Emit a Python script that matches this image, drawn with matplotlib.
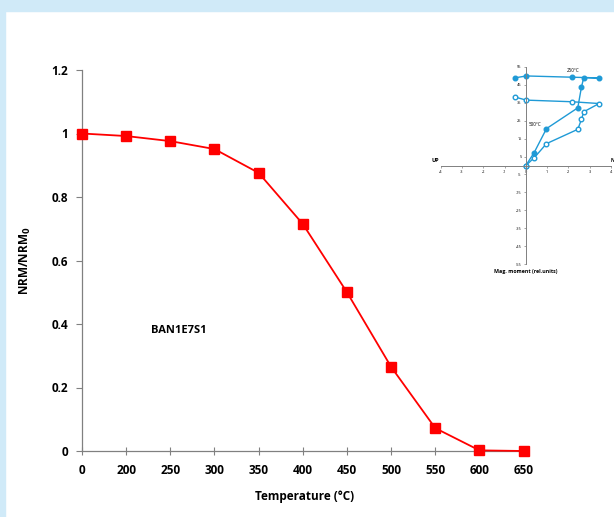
import numpy as np
import matplotlib.pyplot as plt

plt.rcParams['font.family'] = ['Open Sans', 'DejaVu Sans']

# main curve
temps = ['0', '200', '250', '300', '350', '400', '450', '500', '550', '600', '650']
nrm = [1.0, 0.992, 0.976, 0.951, 0.876, 0.715, 0.50, 0.265, 0.072, 0.002, 0.0]
y_ticks = [0, 0.2, 0.4, 0.6, 0.8, 1, 1.2]
y_tick_labels = ['0', '0.2', '0.4', '0.6', '0.8', '1', '1.2']

# inset zijderveld
horiz_x = [-0.53, 0.02, 2.17, 3.44, 2.72, 2.61, 2.44, 0.97, 0.39, 0.0]
horiz_y = [48.9, 50.0, 49.3, 48.9, 49.1, 43.7, 32.2, 20.6, 7.2, 0.0]
vert_x = [-0.53, 0.02, 2.17, 3.44, 2.72, 2.61, 2.44, 0.97, 0.39, 0.0]
vert_y = [38.3, 36.5, 35.6, 34.6, 30.0, 25.7, 20.2, 12.2, 4.3, 0.0]
inset_xticks = [-4, -3, -2, -1, 0, 1, 2, 3, 4]
inset_yticks = [55, 45, 35, 25, 15, 5, -5, -15, -25, -35, -45, -55]

W, H = 614, 517
fig = plt.figure(figsize=(W / 100, H / 100), dpi=100)
border = '#d0eaf8'
fig.patches.append(plt.Rectangle((0, 0), 5 / W, 1, transform=fig.transFigure, color=border, zorder=0))
fig.patches.append(plt.Rectangle((0, 1 - 11 / H), 1, 11 / H, transform=fig.transFigure, color=border, zorder=0))

ax = fig.add_axes([82 / W, 66 / H, 446 / W, 381 / H])
ax.patch.set_alpha(0)
xpos = np.arange(len(temps))
ax.plot(xpos, nrm, color='#ff0000', lw=1.3, marker='s', ms=7.5, mfc='#ff0000', mec='#ff0000', clip_on=False, zorder=5)
ax.set_xlim(0, 10.1)
ax.set_ylim(0, 1.2)
ax.set_xticks(xpos)
ax.set_xticklabels(temps, fontsize=8.5, fontweight='bold')
ax.set_yticks(y_ticks)
ax.set_yticklabels(y_tick_labels, fontsize=8.5, fontweight='bold')
for s in ['top', 'right']:
    ax.spines[s].set_visible(False)
for s in ['left', 'bottom']:
    ax.spines[s].set_color('#808080')
    ax.spines[s].set_linewidth(0.9)
ax.tick_params(axis='y', direction='out', length=4, color='#808080', pad=6)
ax.tick_params(axis='x', direction='inout', length=6, color='#808080', pad=6)
ax.set_xlabel('Temperature (°C)', fontsize=8.5, fontweight='bold', labelpad=10)
ax.set_ylabel('NRM/NRM$_\\mathbf{0}$', fontsize=8.5, fontweight='bold', labelpad=13)
ax.text(2.2, 0.38, 'BAN1E7S1', fontsize=8, fontweight='bold', ha='center', va='center')

# inset
blue = '#1f9ad6'
ia = fig.add_axes([440.7 / W, (H - 264) / H, 170.3 / W, 197 / H])
ia.patch.set_alpha(0)
ia.plot(horiz_x, horiz_y, color=blue, lw=1.0, marker='o', ms=3.3, mfc=blue, mec=blue, clip_on=False)
ia.plot(vert_x, vert_y, color=blue, lw=1.0, marker='o', ms=3.3, mfc='white', mec=blue, clip_on=False)
ia.set_xlim(-4, 4)
ia.set_ylim(-55, 55)
ia.spines['left'].set_position(('data', 0))
ia.spines['bottom'].set_position(('data', 0))
for s in ['top', 'right']:
    ia.spines[s].set_visible(False)
for s in ['left', 'bottom']:
    ia.spines[s].set_color('#808080')
    ia.spines[s].set_linewidth(0.7)
ia.set_xticks(inset_xticks)
ia.set_xticklabels([str(v) for v in inset_xticks], fontsize=2.8)
ia.set_yticks(inset_yticks)
ia.set_yticklabels([str(v) for v in inset_yticks], fontsize=2.8)
ia.tick_params(axis='both', direction='out', length=1.5, width=0.5, color='#808080', pad=1.5)
ia.text(-4.1, 1.5, 'UP', fontsize=4, fontweight='bold', ha='right', va='bottom')
ia.text(3.97, 1.5, 'N', fontsize=3.5, fontweight='bold', ha='left', va='bottom', clip_on=False)
ia.text(1.9, 51.5, '250°C', fontsize=3.3, ha='left', va='bottom')
ia.text(0.15, 21.5, '500°C', fontsize=3.3, ha='left', va='bottom')
ia.text(0.0, -58, 'Mag. moment (rel.units)', fontsize=3.8, fontweight='bold', ha='center', va='top')

fig.savefig('out.png', dpi=100)
